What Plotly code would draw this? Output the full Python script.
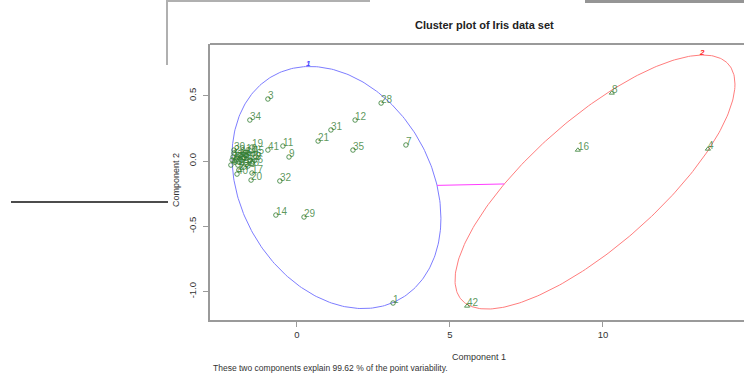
import numpy as np
import plotly.graph_objects as go

# ---- data ----
obs_id = [1, 2, 3, 4, 5, 6, 7, 8, 9, 10, 11, 12, 13, 14, 15, 16, 17, 18, 19, 20, 21, 22, 23,
          24, 25, 26, 27, 28, 29, 30, 31, 32, 33, 34, 35, 36, 37, 38, 39, 40, 41, 42, 43, 44, 45]
comp1 = [3.14, -1.99, -0.95, 13.43, -1.73, -1.34, 3.56, 10.29, -0.26, -1.67, -0.46, 1.90, -2.09,
         -0.69, -1.93, 9.18, -1.47, -1.54, -1.47, -1.50, 0.69, -2.06, -1.86, -2.03, -1.80, -1.60,
         -1.90, 2.75, 0.23, -2.06, 1.11, -0.56, -1.96, -1.54, 1.83, -1.47, -2.12, -1.83, -1.73,
         -1.96, -0.95, 5.56, -2.16, -1.70, -1.44]
comp2 = [-1.088, 0.008, 0.475, 0.092, 0.023, 0.031, 0.123, 0.521, 0.031, 0.069, 0.115, 0.314,
         0.031, -0.414, -0.031, 0.084, -0.092, 0.008, 0.107, -0.146, 0.153, 0.061, 0.046, -0.008,
         -0.015, -0.038, -0.069, 0.444, -0.429, 0.084, 0.238, -0.153, 0.023, 0.314, 0.084, -0.015,
         0.008, 0.008, -0.046, -0.100, 0.084, -1.111, -0.031, 0.046, 0.054]
cluster = [1, 1, 1, 2, 1, 1, 1, 2, 1, 1, 1, 1, 1, 1, 1, 2, 1, 1, 1, 1, 1, 1, 1,
           1, 1, 1, 1, 1, 1, 1, 1, 1, 1, 1, 1, 1, 1, 1, 1, 1, 1, 2, 1, 1, 1]

cluster_names = ["1", "2"]
ell_cx = [1.29, 9.74]
ell_cy = [-0.203, -0.161]
ell_sxx = [11.66, 20.93]
ell_syy = [0.860, 0.947]
ell_sxy = [-0.803, 3.435]

x_ticks = [0, 5, 10]
y_ticks = [-1.0, -0.5, 0.0, 0.5]
y_tick_text = ["-1.0", "-0.5", "0.0", "0.5"]

title = "Cluster plot of Iris data set"
subtitle = "These two components explain 99.62 % of the point variability."

# ---- figure ----
W, H = 744, 374
L, R, T, B = 210, 0, 44, 54
pw, ph = W - L - R, H - T - B

def px(x):
    return (x - L) / pw

def py(y):
    return (H - B - y) / ph

fnt = "Liberation Sans, Arial"
fig = go.Figure()

ell_colors = ["rgb(125,125,255)", "rgb(255,125,125)"]
lbl_colors = ["rgb(70,70,255)", "rgb(255,40,40)"]
t = np.linspace(0, 2 * np.pi, 300)
tops = []
for k in range(2):
    M = np.array([[ell_sxx[k], ell_sxy[k]], [ell_sxy[k], ell_syy[k]]])
    Lc = np.linalg.cholesky(M)
    pts = Lc @ np.vstack([np.cos(t), np.sin(t)])
    fig.add_trace(go.Scatter(x=ell_cx[k] + pts[0], y=ell_cy[k] + pts[1], mode="lines",
                             line=dict(color=ell_colors[k], width=1), hoverinfo="skip",
                             showlegend=False))
    sy = np.sqrt(ell_syy[k])
    tops.append((ell_cx[k] + ell_sxy[k] / sy, ell_cy[k] + sy))

# connecting line between ellipse boundaries
c1 = np.array([ell_cx[0], ell_cy[0]])
c2 = np.array([ell_cx[1], ell_cy[1]])
d = c2 - c1
ends = []
for k, (c, dd) in enumerate([(c1, d), (c2, -d)]):
    M = np.array([[ell_sxx[k], ell_sxy[k]], [ell_sxy[k], ell_syy[k]]])
    s = 1 / np.sqrt(dd @ np.linalg.inv(M) @ dd)
    ends.append(c + s * dd)
fig.add_trace(go.Scatter(x=[ends[0][0], ends[1][0]], y=[ends[0][1], ends[1][1]], mode="lines",
                         line=dict(color="rgb(255,60,255)", width=1), hoverinfo="skip",
                         showlegend=False))

green = "rgba(50,125,50,0.8)"
for k, sym in [(1, "circle-open"), (2, "triangle-up-open")]:
    idx = [i for i, c in enumerate(cluster) if c == k]
    fig.add_trace(go.Scatter(
        x=[comp1[i] for i in idx], y=[comp2[i] for i in idx], mode="markers",
        marker=dict(symbol=sym, size=4.5, color=green, line=dict(width=1, color=green)),
        showlegend=False, cliponaxis=False))

for i in range(len(obs_id)):
    fig.add_annotation(x=comp1[i], y=comp2[i], text=str(obs_id[i]), showarrow=False,
                       xanchor="left", yanchor="bottom", xshift=-2, yshift=-4,
                       font=dict(family=fnt, size=10, color=green))

for k in range(2):
    fig.add_annotation(x=tops[k][0], y=tops[k][1], text="<b><i>%s</i></b>" % cluster_names[k],
                       showarrow=False, xanchor="center", yanchor="bottom", yshift=-4, xshift=-1,
                       font=dict(family=fnt, size=8, color=lbl_colors[k]))

ax_col = "#9a9a9a"
fig.update_xaxes(range=[-2.843, 14.61], tickvals=x_ticks, ticks="outside", ticklen=5,
                 tickcolor=ax_col, showline=True, linecolor=ax_col, linewidth=2,
                 showgrid=False, zeroline=False, ticklabelstandoff=0,
                 tickfont=dict(family=fnt, size=9.5, color="#333"))
fig.update_yaxes(range=[-1.218, 0.8966], tickvals=y_ticks, ticktext=y_tick_text,
                 ticks="outside", ticklen=5, tickangle=-90, ticklabelstandoff=3,
                 tickcolor=ax_col, showline=True, linecolor=ax_col, linewidth=2,
                 showgrid=False, zeroline=False,
                 tickfont=dict(family=fnt, size=9.5, color="#333"))

# top frame line of the plot box
fig.add_shape(type="line", xref="paper", yref="paper", x0=0, x1=1, y0=1, y1=1,
              line=dict(color=ax_col, width=2))

fig.add_annotation(xref="paper", yref="paper", x=px(484), y=py(25), text="<b>%s</b>" % title,
                   xanchor="center", yanchor="middle",
                   showarrow=False, font=dict(family=fnt, size=11, color="#222"))
fig.add_annotation(xref="paper", yref="paper", x=px(479), y=py(357), text="Component 1",
                   xanchor="center", yanchor="middle",
                   showarrow=False, font=dict(family=fnt, size=9, color="#333"))
fig.add_annotation(xref="paper", yref="paper", x=px(176), y=py(180), text="Component 2",
                   xanchor="center", yanchor="middle",
                   textangle=-90, showarrow=False, font=dict(family=fnt, size=9, color="#333"))
fig.add_annotation(xref="paper", yref="paper", x=px(211), y=py(368), text=subtitle,
                   xanchor="left", yanchor="middle",
                   showarrow=False, font=dict(family=fnt, size=8.5, color="#333"))

# screenshot frame fragments around the chart
fig.add_shape(type="line", xref="paper", yref="paper", x0=px(167), x1=px(167), y0=py(0), y1=py(65),
              line=dict(color="#b0b0b0", width=2))
fig.add_shape(type="line", xref="paper", yref="paper", x0=px(167), x1=px(370), y0=py(1), y1=py(1),
              line=dict(color="#b0b0b0", width=2))
fig.add_shape(type="rect", xref="paper", yref="paper", x0=px(585), x1=px(744), y0=py(0), y1=py(3),
              line=dict(width=0), fillcolor="#959595")
fig.add_shape(type="line", xref="paper", yref="paper", x0=px(11), x1=px(168), y0=py(202), y1=py(202),
              line=dict(color="#111", width=1.5))

fig.update_layout(width=W, height=H, margin=dict(l=L, r=R, t=T, b=B),
                  paper_bgcolor="white", plot_bgcolor="white", showlegend=False)

fig.write_html("out.html")
